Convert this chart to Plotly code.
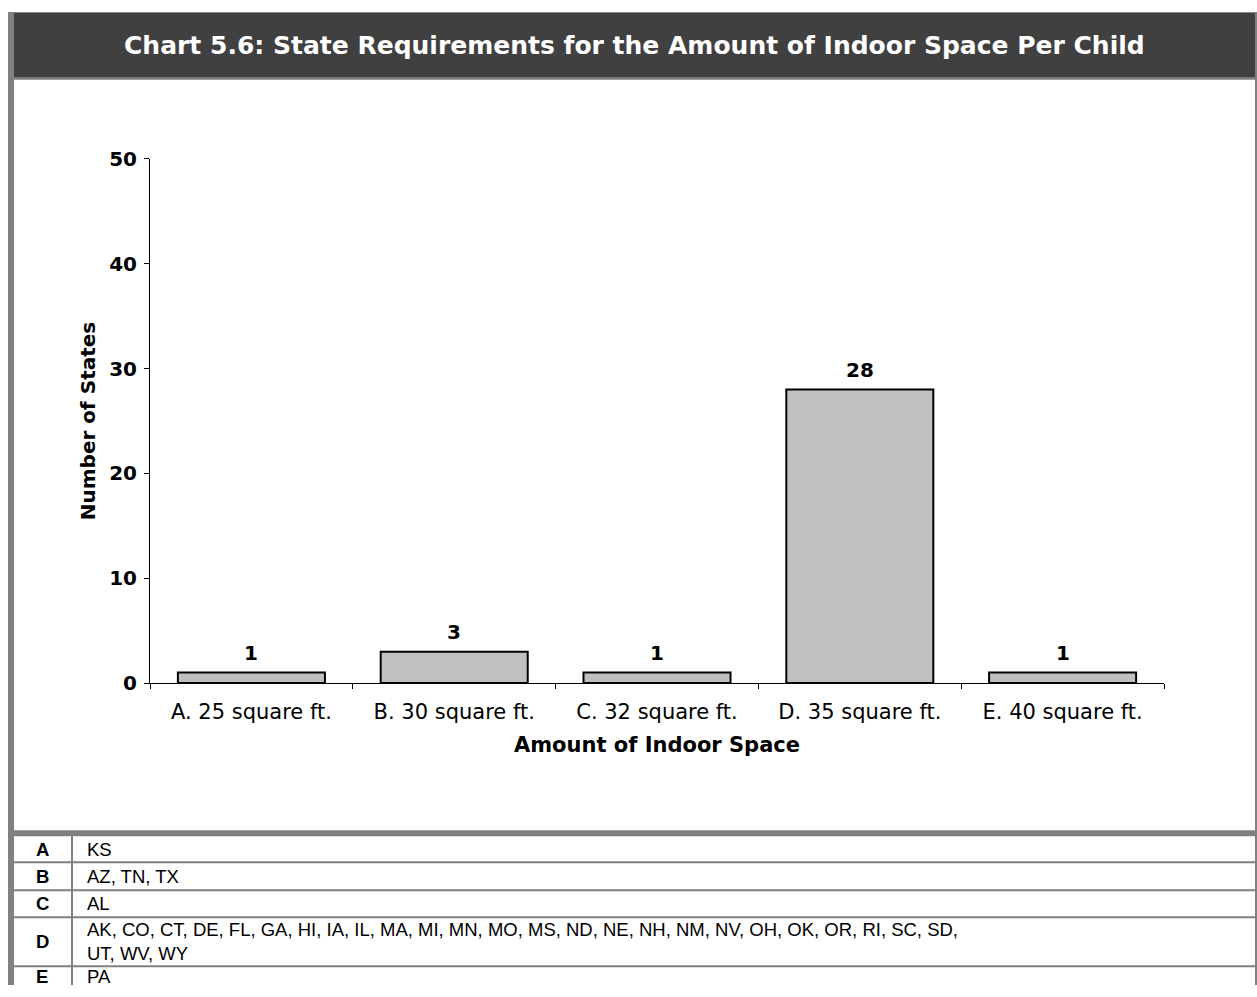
import plotly.graph_objects as go

W, H = 1257, 997

# chart data
categories = ['A. 25 square ft.', 'B. 30 square ft.', 'C. 32 square ft.',
              'D. 35 square ft.', 'E. 40 square ft.']
num_states = [1, 3, 1, 28, 1]

# table data
row_letters = ['A', 'B', 'C', 'D', 'E']
row_states = [
    'KS',
    'AZ, TN, TX',
    'AL',
    'AK, CO, CT, DE, FL, GA, HI, IA, IL, MA, MI, MN, MO, MS, ND, NE, NH, NM, NV, OH, OK, OR, RI, SC, SD,<br>UT, WV, WY',
    'PA',
]

TITLE = 'Chart 5.6: State Requirements for the Amount of Indoor Space Per Child'
GRAY = '#808080'
DARK = '#404040'
VERD = 'DejaVu Sans'
ARIAL = 'Liberation Sans'

# the capture adds a thin strip above/below the page, so vertical pixel
# positions are pre-compensated (measured: shown_y = 12.2 + 0.9755 * y)
OFF, SC = 12.19, 0.9755


def ty(py):
    return min(max((py - OFF) / SC, 0), H)


def fx(px):
    return px / W


def fy(py):
    return 1 - ty(py) / H


def rect(x0, y0, x1, y1, color):
    return dict(type='rect', xref='paper', yref='paper',
                x0=fx(x0), x1=fx(x1), y0=fy(y1), y1=fy(y0),
                fillcolor=color, line=dict(width=0), layer='above')


fig = go.Figure()

fig.add_trace(go.Bar(
    x=categories, y=num_states,
    marker=dict(color='#c0c0c0', line=dict(color='black', width=2)),
    showlegend=False, hoverinfo='x+y',
))

annotations = []
# value labels above bars
for c, v in zip(categories, num_states):
    annotations.append(dict(
        x=c, y=v, xref='x', yref='y', text=str(v), showarrow=False,
        yanchor='bottom', yshift=6,
        font=dict(family=VERD, size=20, color='black', weight='bold'),
    ))

# title text
annotations.append(dict(
    x=fx(634), y=fy(46), xref='paper', yref='paper', text=TITLE,
    showarrow=False, xanchor='center', yanchor='middle',
    font=dict(family=VERD, size=25, color='white', weight='bold'),
))

shapes = [
    rect(8, 7, 14, H + 20, GRAY),     # left border
    rect(8, 8, W, 13, GRAY),          # top border
    rect(14, 13, 1255, 78, DARK),     # title band
    rect(14, 78, W, 80, GRAY),        # under title
    rect(1255, 7, W, H + 20, GRAY),   # right border
    rect(14, 830, W, 836, GRAY),      # table top
]

# table rows
row_tops = [836, 862, 890, 917, 966, H]
for i, (letter, states) in enumerate(zip(row_letters, row_states)):
    top, bottom = row_tops[i], row_tops[i + 1]
    mid = (top + bottom) / 2
    yc = 1 - min(ty(mid), H - 9) / H
    if i > 0:
        shapes.append(rect(14, top - 1, 1255, top + 1, GRAY))
    annotations.append(dict(
        x=fx(42), y=yc, xref='paper', yref='paper',
        text=letter, showarrow=False, xanchor='center', yanchor='middle',
        font=dict(family=ARIAL, size=18.5, color='black', weight='bold'),
    ))
    annotations.append(dict(
        x=fx(85), y=yc, xref='paper', yref='paper',
        text=states, showarrow=False, xanchor='left', yanchor='middle',
        align='left',
        font=dict(family=ARIAL, size=18.5, color='black'),
    ))
shapes.append(rect(71, 836, 73, H + 20, GRAY))

fig.update_layout(
    width=W, height=H,
    margin=dict(l=0, r=0, t=0, b=0),
    paper_bgcolor='white', plot_bgcolor='white',
    bargap=0.275,
    xaxis=dict(
        domain=[fx(150), fx(1164)],
        type='category',
        showline=True, linecolor='black', linewidth=1,
        ticks='outside', tickson='boundaries', ticklen=5, tickcolor='black',
        ticklabelstandoff=10,
        tickfont=dict(family=VERD, size=21, color='black'),
        title=dict(text='Amount of Indoor Space', standoff=13,
                   font=dict(family=VERD, size=21, color='black', weight='bold')),
        showgrid=False, zeroline=False, fixedrange=True,
    ),
    yaxis=dict(
        domain=[fy(683), fy(159)],
        range=[0, 50], dtick=10,
        showline=True, linecolor='black', linewidth=1,
        ticks='outside', ticklen=5, tickcolor='black',
        ticklabelstandoff=3,
        tickfont=dict(family=VERD, size=20, color='black', weight='bold'),
        title=dict(text='Number of States', standoff=8,
                   font=dict(family=VERD, size=20, color='black', weight='bold')),
        showgrid=False, zeroline=False, fixedrange=True,
    ),
    shapes=shapes,
    annotations=annotations,
)

pin = (
    "document.documentElement.style.margin='0';"
    "document.body.style.margin='0';"
    "document.body.style.overflow='hidden';"
)
fig.write_html('out.html', config={'displayModeBar': False, 'responsive': False},
               post_script=pin)
